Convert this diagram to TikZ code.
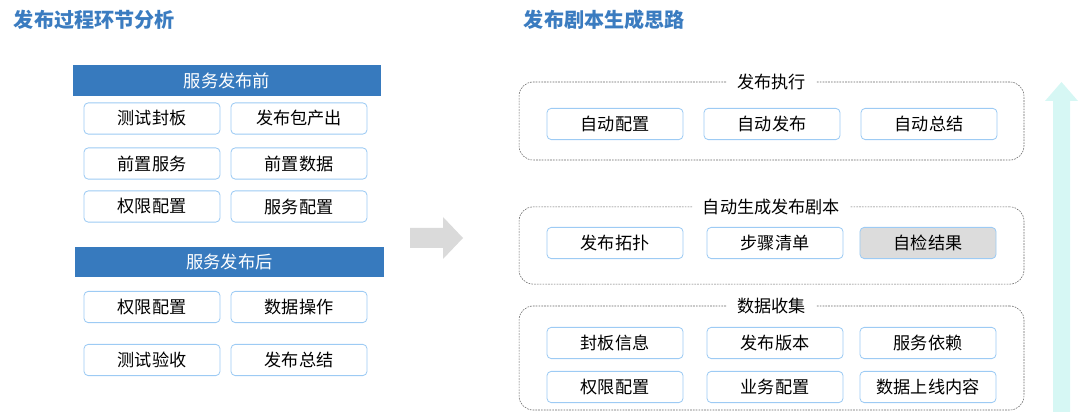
\documentclass[tikz,border=0pt]{standalone}
\usepackage{fontspec}
\setmainfont{Noto Sans CJK SC}
\usepackage{tikz}
\usetikzlibrary{positioning, calc}
\definecolor{headblue}{HTML}{3B7CC0}
\definecolor{barblue}{HTML}{377ABE}
\definecolor{itemline}{HTML}{9DCBF4}
\definecolor{arrgray}{HTML}{DADADA}
\definecolor{arrcyan}{HTML}{D6F7F4}
\definecolor{selgray}{HTML}{DCDCDC}

\begin{document}
\begin{tikzpicture}[
  x=0.025cm, y=-0.025cm,
  heading/.style={anchor=west, text=headblue, font=\bfseries\fontsize{14.3}{17}\selectfont},
  bar/.style={fill=barblue, text=white, minimum width=7.7cm, minimum height=0.75cm,
    inner sep=0pt, font=\fontsize{12.3}{14}\selectfont},
  item/.style={draw=itemline, fill=#1, line width=0.6pt, rounded corners=3pt,
    minimum width=3.4cm, minimum height=0.78cm, inner sep=0pt,
    font=\fontsize{12.2}{14}\selectfont},
  item/.default=white,
  panel/.style={draw=black!60, dash pattern=on 1.2pt off 0.8pt, line width=0.4pt,
    rounded corners=10pt, minimum width=12.62cm, inner sep=0pt},
  ptitle/.style={fill=white, inner xsep=7pt, inner ysep=1pt, font=\fontsize{12.2}{14}\selectfont},
]
\useasboundingbox (0,0) rectangle (1080,412);

% Headings
\node[heading] (hleft) at (9,20) {发布过程环节分析};
\node[heading] (hright) at (519,20) {发布剧本生成思路};

% Before release
\node[bar] (before) at (227,80.5) {服务发布前};
\node[item] (b11) at (152,118.5) {测试封板};
\node[item] (b12) at (299,118.5) {发布包产出};
\node[item] (b21) at (152,163.5) {前置服务};
\node[item] (b22) at (299,163.5) {前置数据};
\node[item] (b31) at (152,206.5) {权限配置};
\node[item] (b32) at (299,206.5) {服务配置};

% After release
\node[bar] (after) at (229.5,262) {服务发布后};
\node[item] (a11) at (152,307) {权限配置};
\node[item] (a12) at (299,307) {数据操作};
\node[item] (a21) at (152,360) {测试验收};
\node[item] (a22) at (299,360) {发布总结};

% Middle arrow
\fill[arrgray] (410,228) -- (443,228) -- (443,217) -- (463,238) -- (443,259)
  -- (443,248) -- (410,248) -- cycle;

% Release execution
\node[panel, minimum height=1.95cm] (exec) at (771.5,121) {};
\node[ptitle] (exect) at (exec.north) {发布执行};
\node[item] (e1) at (615,124) {自动配置};
\node[item] (e2) at (772,124) {自动发布};
\node[item] (e3) at (929,124) {自动总结};

% Script generation
\node[panel, minimum height=1.93cm] (gen) at (771.5,245.5) {};
\node[ptitle] (gent) at (gen.north) {自动生成发布剧本};
\node[item] (g1) at (615,243) {发布拓扑};
\node[item] (g2) at (775,243) {步骤清单};
\node[item=selgray] (g3) at (928,243) {自检结果};

% Data collection
\node[panel, minimum height=2.6cm] (data) at (771.5,358) {};
\node[ptitle] (datat) at (data.north) {数据收集};
\node[item] (d11) at (615,343) {封板信息};
\node[item] (d12) at (775,343) {发布版本};
\node[item] (d13) at (928,343) {服务依赖};
\node[item] (d21) at (615,387) {权限配置};
\node[item] (d22) at (775,387) {业务配置};
\node[item] (d23) at (928,387) {数据上线内容};

% Right arrow
\fill[arrcyan] (1053,412) -- (1053,101) -- (1045,101) -- (1061.5,82) -- (1078,101)
  -- (1070,101) -- (1070,412) -- cycle;

\end{tikzpicture}
\end{document}
